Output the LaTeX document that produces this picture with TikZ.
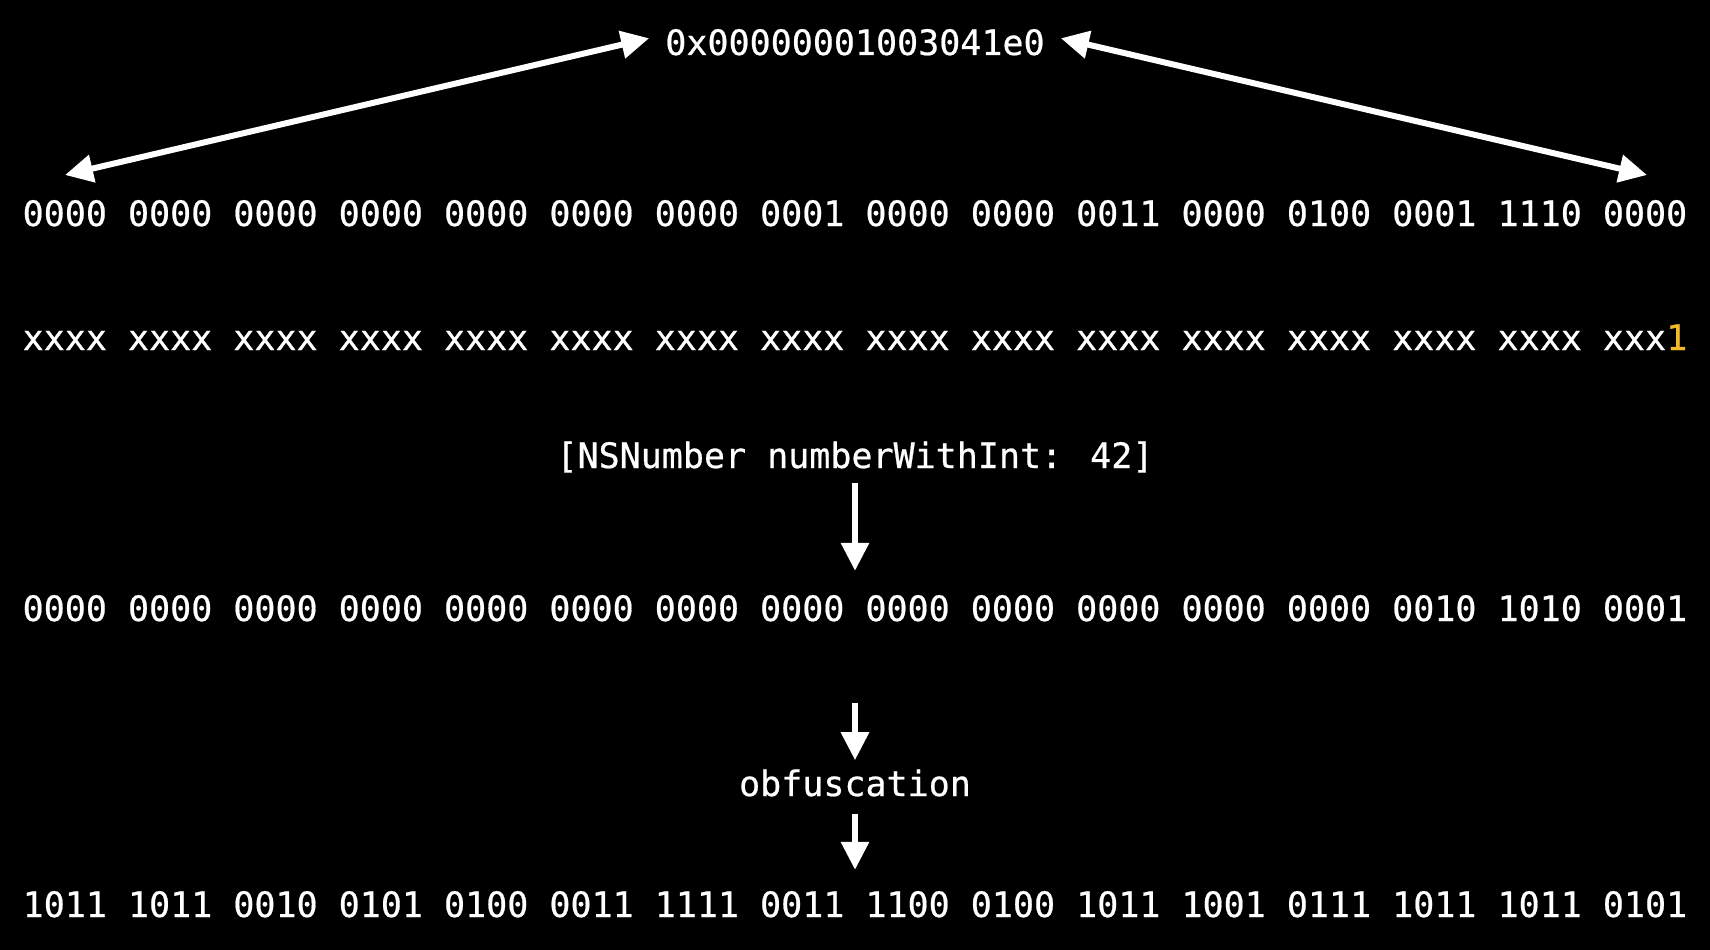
\documentclass[tikz,border=0pt]{standalone}
\usepackage{fontspec}
\newfontfamily\bitsfont[FakeBold=0.6]{DejaVu Sans Mono}
\usepackage{xcolor}
\usetikzlibrary{arrows.meta}
\definecolor{tagyellow}{RGB}{240,186,40}

\begin{document}
\begin{tikzpicture}[x=1pt,y=-1pt,
	bits/.style={white,inner sep=0pt,anchor=base,font=\bitsfont\fontsize{35}{42}\selectfont},
	arr/.style={white,line width=6pt,-{Triangle[length=28pt,width=27pt]}},
	dblarr/.style={white,line width=6pt,{Triangle[length=28pt,width=27pt]}-{Triangle[length=28pt,width=27pt]}}]
	% background
	\fill[black] (0,0) rectangle (1710,950);
	\useasboundingbox (0,0) rectangle (1710,950);
	% pointer
	\node[bits] (addr) at (855,55){0x00000001003041e0};
	\node[bits] (bits) at (855,226){0000 0000 0000 0000 0000 0000 0000 0001 0000 0000 0011 0000 0100 0001 1110 0000};
	\node[bits] (mask) at (855,350){xxxx xxxx xxxx xxxx xxxx xxxx xxxx xxxx xxxx xxxx xxxx xxxx xxxx xxxx xxxx xxx{\color{tagyellow}1}};
	% tagged number
	\node[bits] (call) at (855,468){[NSNumber numberWithInt: 42]};
	\node[bits] (plain) at (855,621){0000 0000 0000 0000 0000 0000 0000 0000 0000 0000 0000 0000 0000 0010 1010 0001};
	\node[bits] (obf) at (855,796){obfuscation};
	\node[bits] (result) at (855,917){1011 1011 0010 0101 0100 0011 1111 0011 1100 0100 1011 1001 0111 1011 1011 0101};
	% ends
	\coordinate (lefttip) at (65,175);
	\coordinate (righttip) at (1647,175);
	% double arrows
	\draw[dblarr] (lefttip) -- ([xshift=-16pt,yshift=4pt]addr.west);
	\draw[dblarr] ([xshift=16pt,yshift=4pt]addr.east) -- (righttip);
	% down arrows
	\draw[arr,shorten <=10pt,shorten >=24pt] (call.south) -- (plain.north);
	\draw[arr,shorten <=81pt,shorten >=9pt] (plain.south) -- (obf.north);
	\draw[arr,shorten <=17pt,shorten >=21pt] (obf.south) -- (result.north);
\end{tikzpicture}
\end{document}
